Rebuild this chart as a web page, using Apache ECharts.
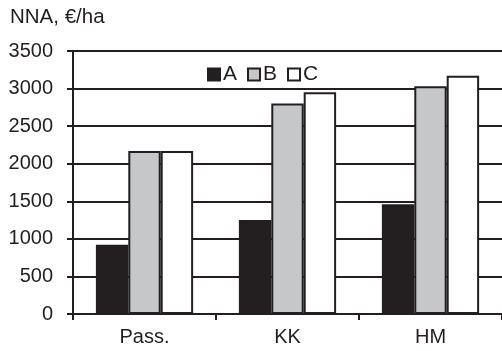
<!DOCTYPE html>
<html><head><meta charset="utf-8">
<script src="https://cdn.jsdelivr.net/npm/echarts@6/dist/echarts.min.js"></script>
<style>html,body{margin:0;padding:0;background:#fff}#c{width:502px;height:351px}</style>
</head><body><div id="c"></div>
<script>
const categories = ['Pass.', 'KK', 'HM'];
const seriesNames = ['A', 'B', 'C'];
const valuesA = [920, 1250, 1460];
const valuesB = [2170, 2800, 3030];
const valuesC = [2170, 2950, 3170];
const yTitle = 'NNA, €/ha';

const colors = ['#231f20', '#c6c7c9', '#ffffff'];
const font = 'Liberation Sans, Arial, sans-serif';
const chart = echarts.init(document.getElementById('c'), null, {renderer: 'canvas'});
const data = [valuesA, valuesB, valuesC];
chart.setOption({
  animation: false,
  backgroundColor: '#fff',
  title: {text: yTitle, left: 5, top: 2, textStyle: {fontFamily: font, fontSize: 20.5, fontWeight: 'normal', color: '#231f20'}},
  legend: {
    data: seriesNames, left: 202, top: 59, itemWidth: 12, itemHeight: 12, itemGap: 10,
    textStyle: {fontFamily: font, fontSize: 21, color: '#231f20', padding: [0,0,0,-2]},
    icon: 'rect'
  },
  grid: {left: 73, top: 51, right: 0, bottom: 37},
  xAxis: {
    type: 'category', data: categories,
    axisLine: {lineStyle: {color: '#231f20', width: 2}},
    axisTick: {show: true, length: 6, lineStyle: {color: '#231f20', width: 2}},
    axisLabel: {fontFamily: font, fontSize: 20, color: '#231f20', margin: 13}
  },
  yAxis: {
    type: 'value', min: 0, max: 3500, interval: 500,
    axisLine: {show: true, lineStyle: {color: '#231f20', width: 2}},
    axisTick: {show: true, length: 6, lineStyle: {color: '#231f20', width: 2}},
    axisLabel: {fontFamily: font, fontSize: 20, color: '#231f20', margin: 20, formatter: v => String(v)},
    splitLine: {lineStyle: {color: '#231f20', width: 2}}
  },
  series: seriesNames.map((n, i) => ({
    name: n, type: 'bar', data: data[i],
    barGap: '0%', barCategoryGap: '32%',
    itemStyle: {color: colors[i], borderColor: '#231f20', borderWidth: 2}
  }))
});
</script></body></html>
